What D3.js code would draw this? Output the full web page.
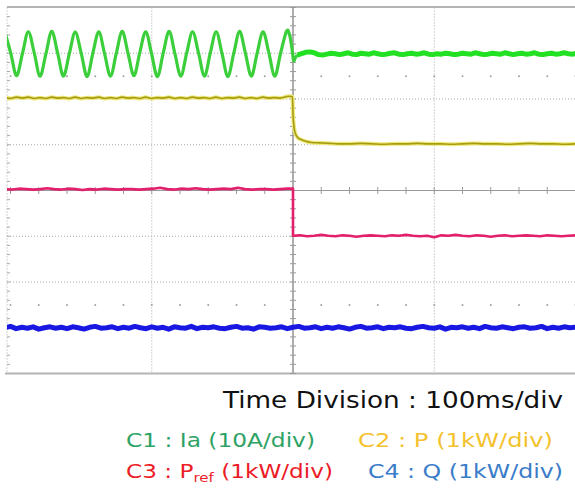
<!DOCTYPE html>
<html>
<head>
<meta charset="utf-8">
<script src="https://cdn.jsdelivr.net/npm/d3@7"></script>
<style>
  html, body { margin: 0; padding: 0; background: #fff; }
  svg { display: block; }
</style>
</head>
<body>
<svg id="scope" width="575" height="490"></svg>
<script>
// ---- Channel records (time in ms, amplitude in divisions) ----

// C1 Ia: 60 Hz current read at quarter periods, then the collapse at the step
const iaTime = [-4.0, 0.2, 4.3, 8.5, 12.6, 16.8, 20.9, 25.1, 29.2, 33.4,
  37.5, 41.7, 45.8, 50.0, 54.2, 58.3, 62.5, 66.6, 70.8, 74.9,
  79.1, 83.2, 87.4, 91.5, 95.7, 99.8, 104.0, 108.1, 112.3, 116.4,
  120.6, 124.7, 128.9, 133.1, 137.3, 141.4, 145.6, 149.7, 153.9, 158.0,
  162.2, 166.3, 170.5, 174.6, 178.8, 182.9, 187.1, 191.2, 195.4, 197.6,
  199.3, 200.4, 201.6, 203.0];
const iaValue = [3.47, 3.00, 2.51, 3.00, 3.47, 3.01, 2.50, 2.99, 3.48, 3.00,
  2.50, 3.00, 3.46, 3.01, 2.49, 3.00, 3.47, 2.99, 2.50, 3.00,
  3.48, 3.00, 2.51, 3.01, 3.47, 3.00, 2.49, 3.00, 3.48, 2.99,
  2.50, 3.00, 3.47, 3.01, 2.50, 3.00, 3.47, 3.00, 2.49, 2.99,
  3.48, 3.00, 2.50, 3.00, 3.47, 3.01, 2.50, 3.00, 3.48, 3.40,
  3.10, 2.84, 2.90, 2.96];
// C1 after the step, one sample every 3 ms from 206 ms
const iaPostStart = 206, iaPostStep = 3;
const iaPost = [2.99, 3.02, 3.03, 3.01, 2.97, 2.96, 2.98, 3.00, 2.99, 2.97,
  2.99, 3.01, 2.98, 2.97, 3.00, 2.99, 2.98, 3.01, 2.99, 2.97,
  2.98, 3.00, 3.01, 2.98, 2.97, 2.99, 3.00, 2.98, 2.99, 3.01,
  2.98, 2.97, 2.99, 2.98, 3.00, 2.99, 2.97, 2.98, 3.00, 2.99,
  2.98, 3.01, 2.99, 2.97, 2.98, 3.00, 2.99, 2.98, 3.01, 2.99,
  2.97, 2.99, 3.00, 2.98, 2.99, 3.01, 2.98, 2.97, 2.99, 3.00,
  2.98, 2.99, 3.01, 2.99, 2.98, 3.00];

// C2 P: 120 Hz ripple before the step (half-period samples), decay, then flat
const pPreStart = -4, pPreStep = 4.15;
const pPre = [2.03, 2.01, 2.04, 2.02, 2.04, 2.01, 2.03, 2.01, 2.04, 2.02,
  2.03, 2.01, 2.04, 2.01, 2.03, 2.02, 2.04, 2.01, 2.03, 2.01,
  2.04, 2.02, 2.03, 2.01, 2.04, 2.01, 2.03, 2.02, 2.04, 2.01,
  2.03, 2.01, 2.04, 2.02, 2.03, 2.01, 2.04, 2.01, 2.03, 2.02,
  2.04, 2.01, 2.03, 2.01, 2.04, 2.02, 2.03, 2.02, 2.05];
const pStepTime = [197.5, 199.6, 200.1, 201.4, 203.5, 206, 208.5, 213, 219, 226];
const pStepValue = [2.06, 2.05, 1.61, 1.27, 1.15, 1.11, 1.08, 1.05, 1.04, 1.03];
const pPostStart = 232, pPostStep = 8;
const pPost = [1.02, 1.02, 1.03, 1.02, 1.01, 1.02, 1.02, 1.03, 1.02, 1.02,
  1.01, 1.02, 1.03, 1.02, 1.02, 1.01, 1.02, 1.03, 1.02, 1.02, 1.01, 1.02];

// C3 Pref: reference steps from 0 to -1 div at 200 ms
const stepTime = 200;
const prefStart = -4, prefStep = 5;
const prefPre = [0.03, 0.02, 0.04, 0.03, 0.02, 0.03, 0.05, 0.03, 0.02, 0.04,
  0.03, 0.01, 0.03, 0.02, 0.04, 0.03, 0.02, 0.03, 0.03, 0.02,
  0.03, 0.04, 0.06, 0.03, 0.02, 0.04, 0.03, 0.05, 0.03, 0.02,
  0.03, 0.04, 0.03, 0.06, 0.03, 0.02, 0.03, 0.03, 0.02, 0.03, 0.04];
const prefPost = [-0.99, -0.98, -1.00, -0.99, -0.97, -0.99, -1.00, -0.98, -0.99, -1.01,
  -0.99, -0.98, -0.99, -1.00, -0.98, -0.99, -0.97, -0.99, -1.00, -0.99,
  -1.02, -0.98, -0.99, -0.97, -0.99, -1.00, -0.98, -0.99, -1.01, -0.99,
  -0.98, -1.00, -0.99, -0.98, -0.99, -1.00, -0.98, -0.99, -1.00, -0.99, -0.98];

// C4 Q: stays at -3 div, one sample every 4 ms
const qStart = -4, qStep = 4;
const qValue = [-3.00, -2.97, -3.02, -2.99, -3.01, -2.98, -3.03, -3.00, -2.98, -3.01,
  -2.99, -3.02, -2.98, -3.00, -3.03, -2.99, -2.97, -3.01, -3.00, -2.98,
  -3.02, -2.99, -3.01, -2.97, -3.00, -3.02, -2.98, -3.01, -2.99, -3.03,
  -2.98, -3.00, -3.01, -2.97, -3.02, -2.99, -3.00, -2.98, -3.01, -3.02,
  -2.99, -2.97, -3.01, -3.00, -3.03, -2.98, -2.99, -3.01, -3.00, -2.98,
  -3.02, -2.99, -2.97, -3.01, -3.00, -2.98, -3.02, -2.99, -3.01, -2.98,
  -3.00, -3.03, -2.99, -2.97, -3.01, -3.00, -2.98, -3.02, -2.99, -3.00,
  -2.98, -3.01, -3.02, -2.99, -2.97, -3.00, -3.01, -2.98, -3.03, -2.99,
  -3.00, -2.98, -3.01, -2.99, -3.02, -2.97, -3.00, -3.01, -2.98, -3.00,
  -3.02, -2.99, -2.98, -3.01, -3.00, -2.97, -3.02, -2.99, -3.01, -2.98,
  -3.00, -2.99];

// Screen graticule
const timeDomain = [0, 400];       // 4 divisions at 100 ms/div
const voltDomain = [-4, 4];        // 8 vertical divisions
const timeGrid = [100, 300];
const voltGrid = [-3, -2, -1, 1, 2, 3];
const dotRows = [-2.5, 2.5];

// Annotation text
const timeLabel = "Time Division : 100ms/div";
const legendItems = [
  { main: "C1 : Ia (10A/div)", sub: null, tail: null, color: "#2ea265" },
  { main: "C2 : P (1kW/div)", sub: null, tail: null, color: "#f3c22e" },
  { main: "C3 : P", sub: "ref", tail: " (1kW/div)", color: "#ec1c27" },
  { main: "C4 : Q (1kW/div)", sub: null, tail: null, color: "#3b7cc9" }
];

// ---- Drawing ----
const svg = d3.select("#scope");
const frame = { left: 7, right: 575.5, top: 7.5, bottom: 373.5 };

const x = d3.scaleLinear().domain(timeDomain).range([10.5, 575.5]);
const y = d3.scaleLinear().domain(voltDomain).range([frame.bottom, frame.top]);

const grid = svg.append("g");
const gridColor = "#a8a8a8";

// dotted division lines
grid.selectAll("line.vg").data(timeGrid).join("line")
  .attr("x1", d => x(d)).attr("x2", d => x(d))
  .attr("y1", frame.top).attr("y2", frame.bottom)
  .attr("stroke", gridColor).attr("stroke-width", 1).attr("stroke-dasharray", "1,2");
grid.selectAll("line.hg").data(voltGrid).join("line")
  .attr("x1", frame.left).attr("x2", frame.right)
  .attr("y1", d => y(d)).attr("y2", d => y(d))
  .attr("stroke", gridColor).attr("stroke-width", 1).attr("stroke-dasharray", "1,2");

// left frame edge with minor ticks
grid.append("line")
  .attr("x1", frame.left).attr("x2", frame.left)
  .attr("y1", frame.top).attr("y2", frame.bottom)
  .attr("stroke", gridColor).attr("stroke-width", 1).attr("stroke-dasharray", "1,2");
const minorV = d3.range(-4, 4.001, 0.2);
grid.selectAll("line.lt").data(minorV).join("line")
  .attr("x1", frame.left).attr("x2", frame.left + 3)
  .attr("y1", d => y(d)).attr("y2", d => y(d))
  .attr("stroke", gridColor).attr("stroke-width", 1);

// top and bottom borders
grid.append("line")
  .attr("x1", frame.left).attr("x2", frame.right)
  .attr("y1", frame.top - 0.5).attr("y2", frame.top - 0.5)
  .attr("stroke", "#b4b4b4").attr("stroke-width", 2);
grid.append("line")
  .attr("x1", 5).attr("x2", frame.right)
  .attr("y1", frame.bottom).attr("y2", frame.bottom)
  .attr("stroke", "#b4b4b4").attr("stroke-width", 2);

// solid centre cross with ticks
const midT = (timeDomain[0] + timeDomain[1]) / 2;
grid.append("line")
  .attr("x1", frame.left).attr("x2", frame.right)
  .attr("y1", y(0)).attr("y2", y(0))
  .attr("stroke", "#9a9a9a").attr("stroke-width", 1.2);
grid.append("line")
  .attr("x1", x(midT)).attr("x2", x(midT))
  .attr("y1", frame.top).attr("y2", frame.bottom)
  .attr("stroke", "#9a9a9a").attr("stroke-width", 1.6);
const minorT = d3.range(timeDomain[0], timeDomain[1] + 0.001, 20);
grid.selectAll("line.ht").data(minorT).join("line")
  .attr("x1", d => x(d)).attr("x2", d => x(d))
  .attr("y1", y(0) - 3.5).attr("y2", y(0) + 3.5)
  .attr("stroke", "#9a9a9a").attr("stroke-width", 1);
grid.selectAll("line.vt").data(minorV).join("line")
  .attr("x1", x(midT) - 3).attr("x2", x(midT) + 3)
  .attr("y1", d => y(d)).attr("y2", d => y(d))
  .attr("stroke", "#9a9a9a").attr("stroke-width", 1);

// dot rows at half divisions
const dots = [];
dotRows.forEach(r => minorT.forEach(t => dots.push({ t, r })));
grid.selectAll("circle.dot").data(dots).join("circle")
  .attr("cx", d => x(d.t)).attr("cy", d => y(d.r)).attr("r", 1)
  .attr("fill", "#a0a0a0");

// ---- Traces ----
svg.append("clipPath").attr("id", "screen").append("rect")
  .attr("x", frame.left).attr("y", frame.top)
  .attr("width", frame.right - frame.left).attr("height", frame.bottom - frame.top);
const traces = svg.append("g").attr("clip-path", "url(#screen)");

const sampled = (start, step, vals) => vals.map((v, i) => [start + i * step, v]);
const paired = (ts, vs) => ts.map((t, i) => [t, vs[i]]);

const lineSmooth = d3.line().x(d => x(d[0])).y(d => y(d[1])).curve(d3.curveCardinal);
const lineMono = d3.line().x(d => x(d[0])).y(d => y(d[1])).curve(d3.curveMonotoneX);
const lineStraight = d3.line().x(d => x(d[0])).y(d => y(d[1]));

// C4 Q
traces.append("path")
  .attr("d", lineStraight(sampled(qStart, qStep, qValue)))
  .attr("fill", "none").attr("stroke", "#1818e2").attr("stroke-width", 5)
  .attr("stroke-linejoin", "round");

// C3 Pref
const prefPts = sampled(prefStart, prefStep, prefPre)
  .concat([[stepTime, prefPre[prefPre.length - 1]]])
  .concat(sampled(stepTime, prefStep, prefPost));
traces.append("path")
  .attr("d", lineStraight(prefPts))
  .attr("fill", "none").attr("stroke", "#e3206c").attr("stroke-width", 2.6)
  .attr("stroke-linejoin", "round");

// C2 P
const pPts = sampled(pPreStart, pPreStep, pPre)
  .concat(paired(pStepTime, pStepValue))
  .concat(sampled(pPostStart, pPostStep, pPost));
traces.append("path")
  .attr("d", lineMono(pPts))
  .attr("fill", "none").attr("stroke", "#efe97a").attr("stroke-width", 4)
  .attr("stroke-linejoin", "round");
traces.append("path")
  .attr("d", lineMono(pPts))
  .attr("fill", "none").attr("stroke", "#a69c14").attr("stroke-width", 1.6)
  .attr("stroke-linejoin", "round");

// C1 Ia
const iaPre = paired(iaTime, iaValue);
const iaAfter = [iaPre[iaPre.length - 1]].concat(sampled(iaPostStart, iaPostStep, iaPost));
traces.append("path")
  .attr("d", lineSmooth(iaPre))
  .attr("fill", "none").attr("stroke", "#3ccf3c").attr("stroke-width", 3.2)
  .attr("stroke-linejoin", "round");
traces.append("path")
  .attr("d", lineStraight(iaAfter))
  .attr("fill", "none").attr("stroke", "#22e022").attr("stroke-width", 5)
  .attr("stroke-linejoin", "round");

// ---- Text ----
const font = "'DejaVu Sans', 'Noto Sans', sans-serif";
svg.append("text")
  .attr("x", 223).attr("y", 408)
  .attr("font-family", font).attr("font-size", 23)
  .attr("textLength", 340).attr("lengthAdjust", "spacingAndGlyphs")
  .attr("fill", "#111").text(timeLabel);

const legendPos = [[126, 447], [358, 447], [126, 478], [368, 478]];
const legendWidth = [189, 195, 207, 195];
legendItems.forEach((item, i) => {
  const t = svg.append("text")
    .attr("x", legendPos[i][0]).attr("y", legendPos[i][1])
    .attr("font-family", font).attr("font-size", 20)
    .attr("textLength", legendWidth[i]).attr("lengthAdjust", "spacingAndGlyphs")
    .attr("fill", item.color);
  t.append("tspan").text(item.main);
  if (item.sub) {
    t.append("tspan").attr("font-size", 13).attr("dy", 4).text(item.sub);
    t.append("tspan").attr("dy", -4).text(item.tail);
  }
});
</script>
</body>
</html>
